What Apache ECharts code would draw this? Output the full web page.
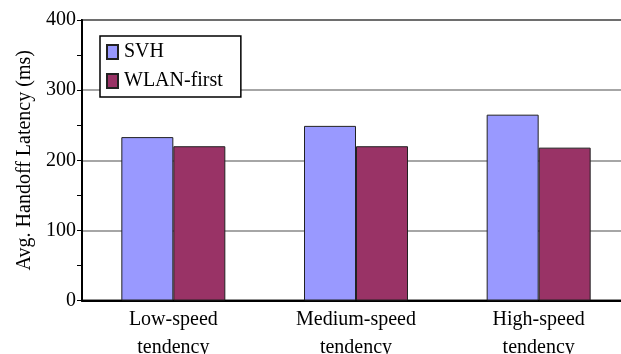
<!DOCTYPE html>
<html>
<head>
<meta charset="utf-8">
<script src="https://cdn.jsdelivr.net/npm/echarts@6/dist/echarts.min.js"></script>
<style>
  html, body { margin: 0; padding: 0; background: #fff; overflow: hidden; }
  #chart { width: 621px; height: 354px; }
</style>
</head>
<body>
<div id="chart"></div>
<script>
// Handoff latency per mobility tendency
const categories = ['Low-speed\ntendency', 'Medium-speed\ntendency', 'High-speed\ntendency'];
const svhLatency = [233, 249, 265];
const wlanFirstLatency = [220, 220, 218];
const yTicks = { min: 0, max: 400, interval: 100 };

const serif = "'Liberation Serif', 'Times New Roman', serif";

const chart = echarts.init(document.getElementById('chart'), null, { renderer: 'canvas' });

chart.setOption({
  animation: false,
  backgroundColor: '#ffffff',
  textStyle: { fontFamily: serif, color: '#000' },
  grid: {
    left: 82, top: 20, width: 548, bottom: 53.5,
    outerBoundsMode: 'none',
    containLabel: false,
    show: true, borderColor: '#222', borderWidth: 2, backgroundColor: 'transparent'
  },
  legend: {
    left: 100, top: 36,
    orient: 'vertical',
    icon: 'rect',
    itemWidth: 11, itemHeight: 14,
    itemGap: 9,
    padding: [6, 18, 6, 6],
    backgroundColor: '#fff',
    borderColor: '#000',
    borderWidth: 1.5,
    borderRadius: 0,
    textStyle: { fontFamily: serif, fontSize: 20, color: '#000', padding: [0, 0, 0, 1] },
    data: ['SVH', 'WLAN-first']
  },
  xAxis: {
    type: 'category',
    data: categories,
    axisLine: { lineStyle: { color: '#000', width: 2 } },
    axisTick: { inside: true, length: 6, lineStyle: { color: '#000', width: 1.5 } },
    axisLabel: { fontFamily: serif, fontSize: 20, color: '#000', lineHeight: 28, margin: 5 },
    splitLine: { show: false }
  },
  yAxis: {
    type: 'value',
    min: yTicks.min, max: yTicks.max, interval: yTicks.interval,
    name: 'Avg. Handoff Latency (ms)',
    nameLocation: 'middle',
    nameRotate: 90,
    nameGap: 46,
    nameTextStyle: { fontFamily: serif, fontSize: 20, color: '#000' },
    axisLine: { show: true, lineStyle: { color: '#000', width: 2 } },
    axisTick: { show: true, inside: false, length: 5, lineStyle: { color: '#000', width: 1 } },
    minorTick: { show: true, splitNumber: 2, length: 5, lineStyle: { color: '#000', width: 1 } },
    axisLabel: { fontFamily: serif, fontSize: 20, color: '#000', margin: 6 },
    splitLine: { show: true, lineStyle: { color: '#888', width: 1.5 } }
  },
  series: [
    {
      name: 'SVH',
      type: 'bar',
      data: svhLatency,
      barWidth: 52,
      barGap: '0%',
      itemStyle: { color: '#9999ff', borderColor: '#222', borderWidth: 1 }
    },
    {
      name: 'WLAN-first',
      type: 'bar',
      data: wlanFirstLatency,
      barWidth: 52,
      barGap: '0%',
      itemStyle: { color: '#993366', borderColor: '#222', borderWidth: 1 }
    }
  ]
});
</script>
</body>
</html>
